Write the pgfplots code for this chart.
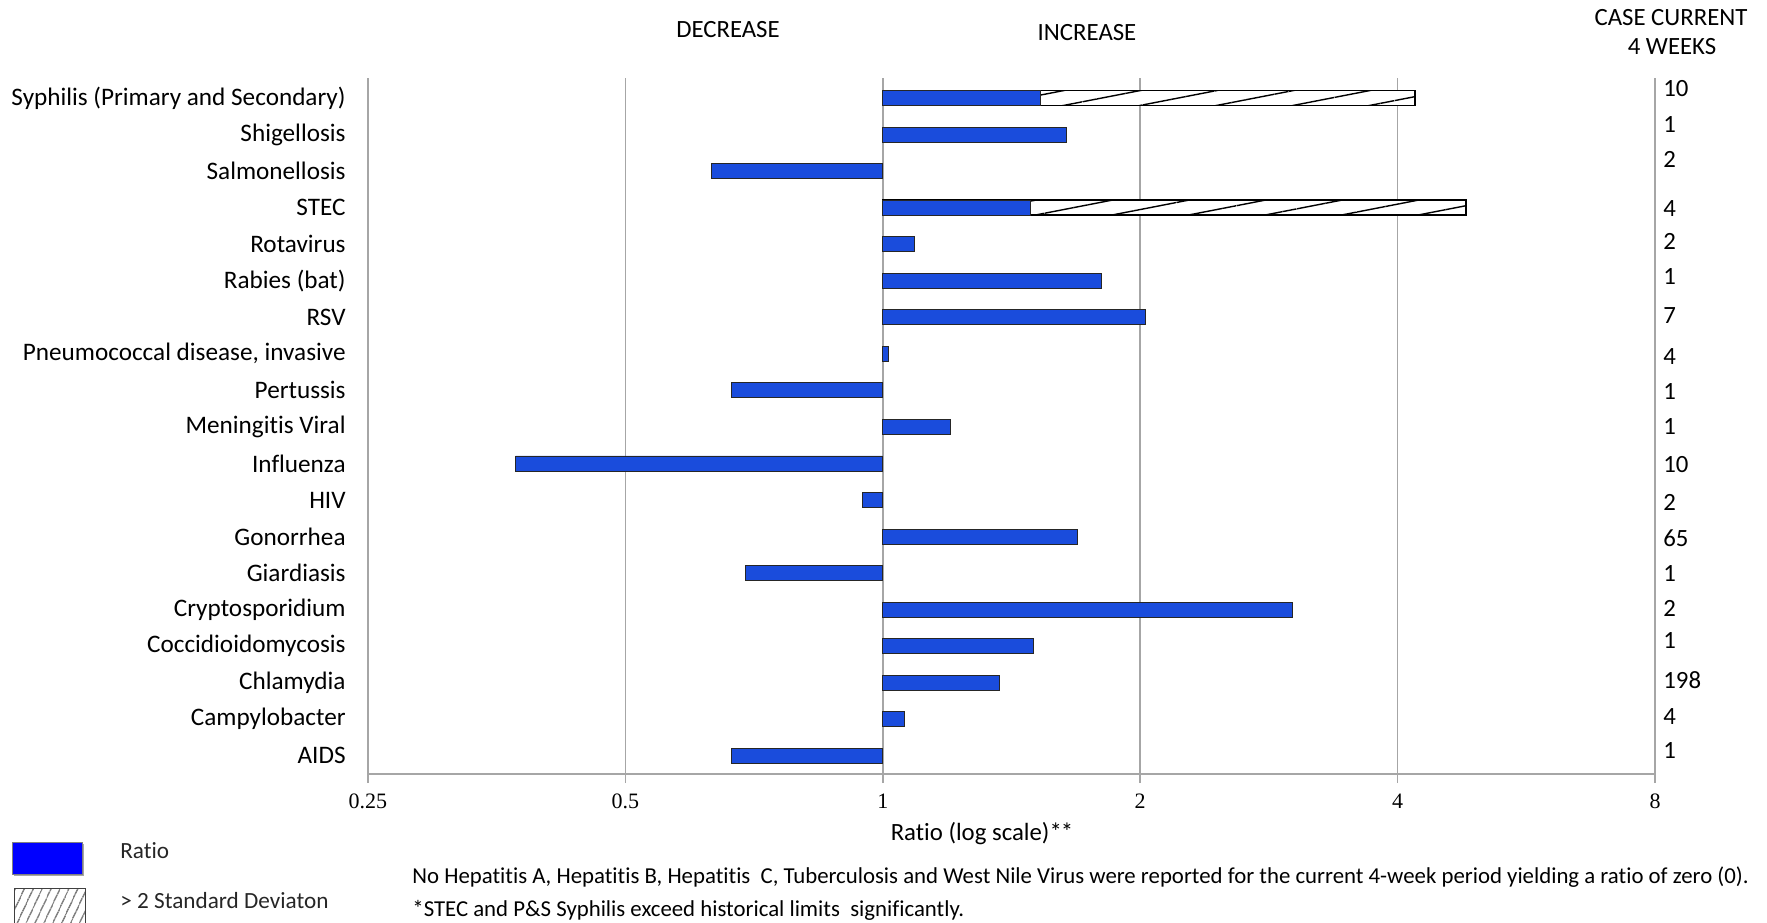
\documentclass[border=0pt]{standalone}
\usepackage{pgfplots}
\pgfplotsset{compat=1.18}
\usetikzlibrary{patterns.meta}
\usepackage{fontspec}
\setmainfont{Carlito}[Ligatures=NoCommon]
\newfontfamily\tickfont{Liberation Serif}
\definecolor{barblue}{HTML}{1A4CDC}
\definecolor{gridgray}{HTML}{A6A6A6}
\newcommand{\mainfs}{\fontsize{12.4}{14}\selectfont}
\newcommand{\catfs}{\fontsize{12.6}{14}\selectfont}
\newcommand{\notefs}{\fontsize{11.4}{14}\selectfont}

\pgfplotstableread{
x y
4.19 18
4.81 15
}\hatchdata

\pgfplotstableread{
x y
0.666 0
1.06 1
1.37 2
1.50 3
3.01 4
0.691 5
1.69 6
0.947 7
0.372 8
1.20 9
0.666 10
1.015 11
2.03 12
1.80 13
1.09 14
1.49 15
0.63 16
1.64 17
1.53 18
}\ratiodata

\pgfplotstableread{
x y c
8 0.13 1
8 1.06 4
8 2.07 198
8 3.14 1
8 4.04 2
8 5.0 1
8 5.95 65
8 6.93 2
8 7.97 10
8 9.01 1
8 9.97 1
8 10.92 4
8 12.04 7
8 13.11 1
8 14.07 2
8 14.97 4
8 16.31 2
8 17.29 1
8 18.25 10
}\casedata

\begin{document}
\begin{tikzpicture}
\path[use as bounding box] (0,0) rectangle (883.5pt,461pt);
\begin{axis}[
  at={(184pt,74pt)}, anchor=south west,
  scale only axis, width=643.5pt, height=348pt,
  xmode=log, log basis x=2, log origin x=0,
  xmin=0.25, xmax=8, ymin=-0.5, ymax=18.55,
  clip=false,
  axis x line*=bottom, axis y line*=left,
  axis line style={-, draw=gridgray, line width=0.75pt},
  xtick={0.25,0.5,1,2,4,8},
  xticklabels={0.25,0.5,1,2,4,8},
  xmajorgrids, grid style={draw=gridgray, line width=0.75pt},
  tick align=outside, major tick length=4.5pt,
  x tick style={draw=gridgray, line width=0.75pt},
  y tick style={draw=none},
  xticklabel style={font=\tickfont\fontsize{11}{13}\selectfont, yshift=-2pt},
  ytick={0,...,18},
  yticklabels={AIDS, Campylobacter, Chlamydia, Coccidioidomycosis, Cryptosporidium, Giardiasis, Gonorrhea, HIV, Influenza, Meningitis Viral, Pertussis, {Pneumococcal disease, invasive}, RSV, Rabies (bat), Rotavirus, STEC, Salmonellosis, Shigellosis, Syphilis (Primary and Secondary)},
  yticklabel style={font=\catfs, anchor=east, inner sep=0pt, xshift=-6.5pt},
]
\addplot[xbar, bar width=7.5pt, bar shift=0pt, fill=white, draw=black, line width=0.8pt,
  postaction={pattern={Lines[angle=11,distance=7.3pt,line width=0.7pt]}}] table[x=x,y=y] {\hatchdata};
\addplot[xbar, bar width=7.5pt, bar shift=0pt, fill=barblue, draw=black!85, line width=0.4pt] table[x=x,y=y] {\ratiodata};
\addplot[draw=none, mark=none, nodes near coords, point meta=explicit symbolic,
  nodes near coords style={anchor=west, inner sep=0pt, xshift=4pt, font=\mainfs}] table[x=x,y=y,meta=c] {\casedata};
\end{axis}
% headers
\node[font=\mainfs, anchor=base] at (364pt,442.1pt) {DECREASE};
\node[font=\mainfs, anchor=base] at (543.5pt,440.6pt) {INCREASE};
\node[font=\mainfs, anchor=base] at (835.5pt,448.2pt) {CASE CURRENT};
\node[font=\mainfs, anchor=base] at (836pt,433.5pt) {4 WEEKS};
\node[font=\mainfs, anchor=base] at (491pt,41pt) {Ratio (log scale)*\kern-0.5pt*};
% legend
\fill[black!35] (7pt,23pt) rectangle (42pt,39pt);
\filldraw[fill=blue, draw=black!50, line width=0.4pt] (6pt,24pt) rectangle (41pt,40pt);
\fill[white] (7pt,0pt) rectangle (42.5pt,17pt);
\path[pattern={Lines[angle=65,distance=4pt,line width=0.55pt]}, pattern color=black!75] (7pt,0pt) rectangle (42.5pt,17pt);
\draw[black!75, line width=0.5pt] (7pt,-1pt) -- (7pt,17pt) -- (42.5pt,17pt) -- (42.5pt,-1pt);
\node[font=\fontsize{11.6}{13}\selectfont, anchor=base west, inner sep=0pt, text=black!85] at (60pt,32pt) {Ratio};
\node[font=\fontsize{11.6}{13}\selectfont, anchor=base west, inner sep=0pt, text=black!85] at (60pt,7pt) {> 2 Standard Deviaton};
% footnotes
\node[font=\notefs, anchor=base west, inner sep=0pt] at (206pt,19.5pt) {No Hepatitis A, Hepatitis B, Hepatitis\ \ C, Tuberculosis and West Nile Virus were reported for the current 4-week period yielding a ratio of zero (0).};
\node[font=\notefs, anchor=base west, inner sep=0pt] at (206pt,3pt) {*STEC and P\&S Syphilis exceed historical limits\ \ significantly.};
\end{tikzpicture}
\end{document}
